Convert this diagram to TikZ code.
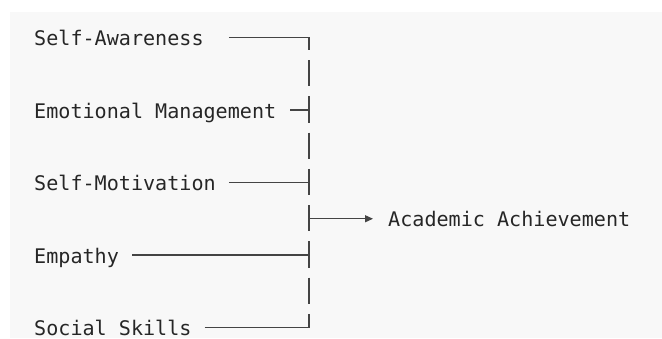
\documentclass[tikz,border=0pt]{standalone}
\usepackage{fontspec}
\setmonofont{DejaVu Sans Mono}
\usetikzlibrary{arrows.meta,calc}

\definecolor{panel}{HTML}{F8F8F8}
\definecolor{ink}{HTML}{262626}
\definecolor{wire}{HTML}{444444}

\begin{document}
\begin{tikzpicture}[x=1pt,y=1pt,
  lbl/.style={font=\ttfamily\fontsize{20.1pt}{24pt}\selectfont, text=ink,
    inner sep=0pt, text height=16.4pt, text depth=0pt, anchor=west},
  link/.style={draw=wire, line width=1.3pt, line join=miter},
  bus/.style={draw=wire, line width=1.6pt,
    dash pattern=on 26.25pt off 10pt, dash phase=13.75pt},
  arrowline/.style={link, -{Triangle[length=8pt,width=7pt]}}]

  % canvas and code panel
  \useasboundingbox (0,0) rectangle (662,-338);
  \fill[white] (0,0) rectangle (662,-338);
  \fill[panel] (10,-12) rectangle (662,-338);

  % factor labels, one per text row (row pitch 36.25)
  \node[lbl] (sa) at (34,-37.5)    {Self-Awareness};
  \node[lbl] (em) at (34,-110)     {Emotional Management};
  \node[lbl] (sm) at (34,-182.5)   {Self-Motivation};
  \node[lbl] (ep) at (34,-255)     {Empathy};
  \node[lbl] (sk) at (34,-327.5)   {Social Skills};
  \node[lbl] (aa) at (388,-218.75) {Academic Achievement};

  % junctions on the collecting bus
  \coordinate (j0) at (309,-37.5);
  \coordinate (j2) at (309,-110);
  \coordinate (j4) at (309,-182.5);
  \coordinate (j5) at (309,-218.75);
  \coordinate (j6) at (309,-255);
  \coordinate (j8) at (309,-327.5);

  % bus, broken between text rows
  \draw[bus] (j0) -- (j8);

  % feeders into the bus
  \draw[link] ($(sa.east)+(25,0)$) -- (j0) -- ++(0,-12.5);
  \draw[link] ($(em.east)+(14,0)$) -- (j2);
  \draw[link] ($(sm.east)+(13,0)$) -- (j4);
  \draw[link] ($(ep.east)+(13,0)$) -- (j6);
  \draw[link] ($(sk.east)+(13,0)$) -- (j8) -- ++(0,13.75);

  % output arrow
  \draw[arrowline] (j5) -- ($(aa.west)+(-15,0)$);
\end{tikzpicture}
\end{document}
